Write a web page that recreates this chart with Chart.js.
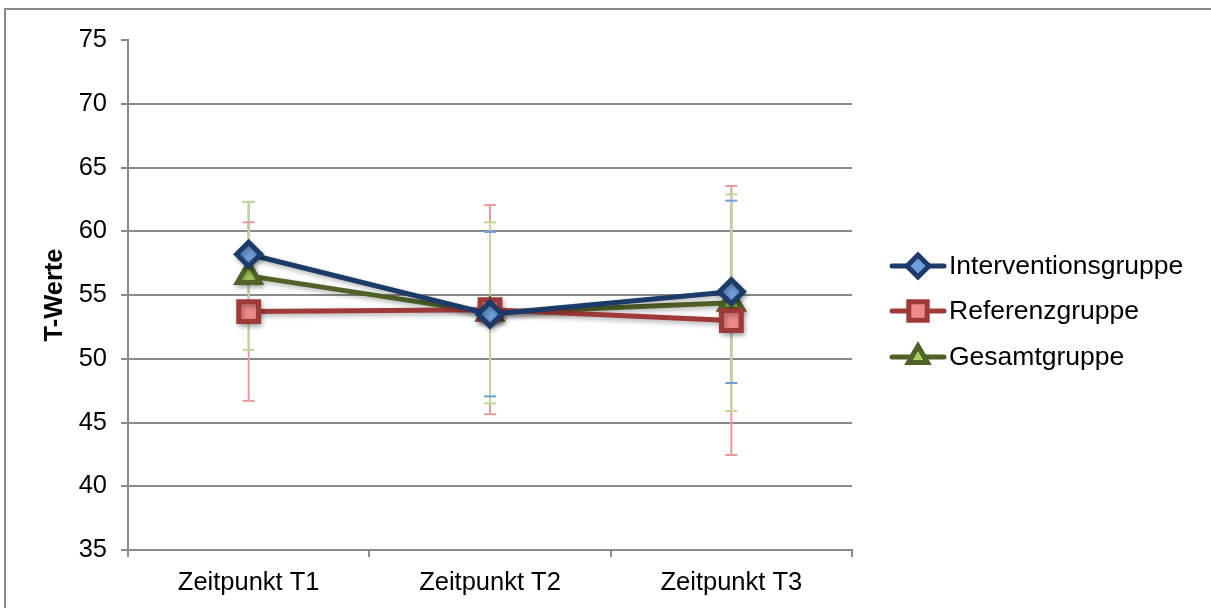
<!DOCTYPE html>
<html>
<head>
<meta charset="utf-8">
<script src="https://cdn.jsdelivr.net/npm/chart.js"></script>
<style>
  html, body { margin: 0; padding: 0; background: #fff; }
  #wrap { position: relative; width: 1211px; height: 608px; }
</style>
</head>
<body>
<div id="wrap"><canvas id="c" width="1211" height="608"></canvas></div>
<script>
const categories = ['Zeitpunkt T1', 'Zeitpunkt T2', 'Zeitpunkt T3'];
const seriesNames = ['Interventionsgruppe', 'Referenzgruppe', 'Gesamtgruppe'];
const interventionValues = [58.2, 53.5, 55.25];
const interventionErrors = [4.1, 6.45, 7.15];
const referenzValues = [53.7, 53.85, 53.0];
const referenzErrors = [7.0, 8.2, 10.55];
const gesamtValues = [56.5, 53.6, 54.4];
const gesamtErrors = [5.8, 7.1, 8.5];
const yTickMin = 35, yTickMax = 75, yTickStep = 5;

const FONT = "'Liberation Sans', Arial, sans-serif";
const GRID = '#8a8a8a';

const styles = [
  { line: '#1c3b68', fill: '#6f9fdc', err: '#6e9fd8', shape: 'rectRot', r: 12 },
  { line: '#9e3a38', fill: '#ef8a88', err: '#e49c9c', shape: 'rect', r: 14 },
  { line: '#4f6228', fill: '#a9cf5e', err: '#c4d79b', shape: 'triangle', r: 13 }
];
const errs = [interventionErrors, referenzErrors, gesamtErrors];

function mkDataset(i, values) {
  const s = styles[i];
  return {
    label: seriesNames[i],
    data: values,
    borderColor: s.line,
    backgroundColor: s.fill,
    borderWidth: 5,
    pointStyle: s.shape,
    pointRadius: s.r,
    pointHoverRadius: s.r,
    pointBorderWidth: 5,
    pointBorderColor: s.line,
    pointBackgroundColor: s.fill,
    tension: 0,
    clip: false
  };
}

const errorBarPlugin = {
  id: 'errorBars',
  beforeDatasetsDraw(chart) {
    const ctx = chart.ctx;
    const x = chart.scales.x, y = chart.scales.y;
    ctx.save();
    ctx.lineWidth = 2;
    chart.data.datasets.forEach((ds, i) => {
      ctx.strokeStyle = styles[i].err;
      ds.data.forEach((v, j) => {
        const px = x.getPixelForValue(j);
        ctx.beginPath();
        ctx.moveTo(px, y.getPixelForValue(v + errs[i][j]));
        ctx.lineTo(px, y.getPixelForValue(v - errs[i][j]));
        ctx.stroke();
      });
    });
    chart.data.datasets.forEach((ds, i) => {
      ctx.strokeStyle = styles[i].err;
      ds.data.forEach((v, j) => {
        const px = x.getPixelForValue(j);
        [v + errs[i][j], v - errs[i][j]].forEach(e => {
          const py = y.getPixelForValue(e);
          ctx.beginPath();
          ctx.moveTo(px - 6, py);
          ctx.lineTo(px + 6, py);
          ctx.stroke();
        });
      });
    });
    ctx.restore();
  }
};

const shadowPlugin = {
  id: 'shadow',
  beforeDatasetDraw(chart) {
    const ctx = chart.ctx;
    ctx.save();
    ctx.shadowColor = 'rgba(0,0,0,0.3)';
    ctx.shadowBlur = 5;
    ctx.shadowOffsetX = 1.5;
    ctx.shadowOffsetY = 2.5;
  },
  afterDatasetDraw(chart) {
    chart.ctx.restore();
  }
};

function drawShape(ctx, shape, cx, cy, r) {
  ctx.beginPath();
  if (shape === 'rectRot') {
    ctx.moveTo(cx, cy - r); ctx.lineTo(cx + r, cy); ctx.lineTo(cx, cy + r); ctx.lineTo(cx - r, cy); ctx.closePath();
  } else if (shape === 'rect') {
    const h = r * Math.SQRT1_2;
    ctx.rect(cx - h, cy - h, 2 * h, 2 * h);
  } else {
    const a0 = -Math.PI / 2;
    for (let k = 0; k < 3; k++) {
      const a = a0 + k * 2 * Math.PI / 3;
      const px = cx + Math.cos(a) * r, py = cy + Math.sin(a) * r;
      if (k === 0) ctx.moveTo(px, py); else ctx.lineTo(px, py);
    }
    ctx.closePath();
  }
}

const framePlugin = {
  id: 'frame',
  afterDraw(chart) {
    const ctx = chart.ctx;
    ctx.save();
    ctx.strokeStyle = '#8a8a8a';
    ctx.lineWidth = 2;
    ctx.beginPath();
    ctx.moveTo(5, 608);
    ctx.lineTo(5, 9);
    ctx.lineTo(1211, 9);
    ctx.stroke();
    const ys = [266, 311, 357];
    chart.data.datasets.forEach((ds, i) => {
      const s = styles[i];
      const yy = ys[i];
      ctx.strokeStyle = s.line;
      ctx.lineWidth = 5;
      ctx.lineCap = 'round';
      ctx.beginPath();
      ctx.moveTo(892, yy);
      ctx.lineTo(944, yy);
      ctx.stroke();
      ctx.lineCap = 'butt';
      ctx.lineWidth = 5;
      ctx.fillStyle = s.fill;
      drawShape(ctx, s.shape, 918, yy, s.shape === 'rect' ? 13 : (s.shape === 'triangle' ? 11 : 11));
      ctx.fill();
      ctx.stroke();
      ctx.fillStyle = '#000';
      ctx.font = '26.5px ' + FONT;
      ctx.textBaseline = 'middle';
      ctx.textAlign = 'left';
      ctx.fillText(ds.label, 949, yy + 1);
    });
    ctx.restore();
  }
};

new Chart(document.getElementById('c'), {
  type: 'line',
  data: {
    labels: categories,
    datasets: [
      mkDataset(0, interventionValues),
      mkDataset(1, referenzValues),
      mkDataset(2, gesamtValues)
    ]
  },
  options: {
    responsive: false,
    animation: false,
    events: [],
    layout: { padding: { left: 0, top: 40, right: 359, bottom: 0 } },
    plugins: { legend: { display: false }, tooltip: { enabled: false } },
    scales: {
      x: {
        type: 'category',
        offset: true,
        afterFit(scale) { scale.height = 58; },
        grid: {
          offset: true,
          drawOnChartArea: false,
          drawTicks: true,
          tickLength: 7,
          color: GRID,
          lineWidth: 2
        },
        border: { display: true, color: GRID, width: 2 },
        ticks: { color: '#000', font: { family: FONT, size: 25.5 }, padding: 11, maxRotation: 0 }
      },
      y: {
        min: yTickMin,
        max: yTickMax,
        afterFit(scale) { scale.width = 128; },
        grid: {
          color: ctx => (ctx.tick && ctx.tick.value === yTickMax) ? 'rgba(0,0,0,0)' : GRID,
          tickColor: GRID,
          lineWidth: 2,
          tickLength: 7,
          drawTicks: true
        },
        border: { display: true, color: GRID, width: 2 },
        ticks: { stepSize: yTickStep, color: '#000', font: { family: FONT, size: 25.5 }, padding: 14 },
        title: {
          display: true,
          text: 'T-Werte',
          color: '#000',
          font: { family: FONT, size: 25.5, weight: 'bold' },
          padding: { top: 40, bottom: 0 }
        }
      }
    }
  },
  plugins: [errorBarPlugin, shadowPlugin, framePlugin]
});
</script>
</body>
</html>
